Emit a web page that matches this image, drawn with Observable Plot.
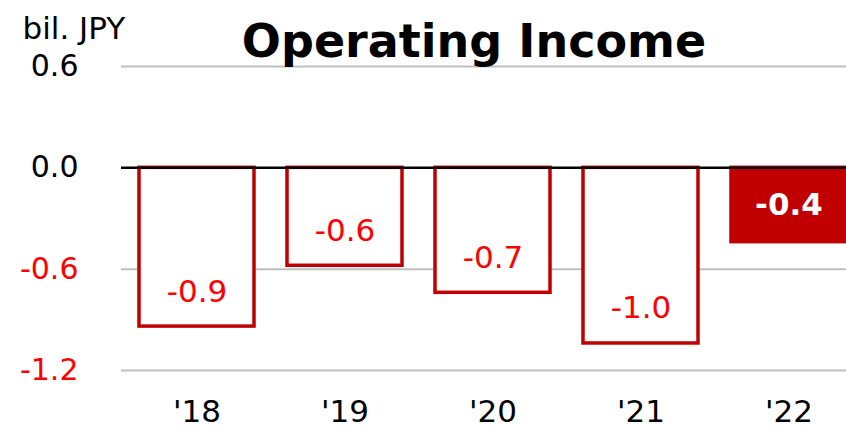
<!DOCTYPE html>
<html>
<head>
<meta charset="utf-8">
<script src="https://cdn.jsdelivr.net/npm/d3@7"></script>
<script src="https://cdn.jsdelivr.net/npm/@observablehq/plot@0.6"></script>
<style>
  html, body { margin: 0; padding: 0; background: white; }
  #wrap { width: 846px; height: 430px; overflow: hidden; position: relative; }
  #wrap svg { max-width: none !important; }
</style>
</head>
<body>
<div id="wrap"></div>
<script>
const years = ["'18", "'19", "'20", "'21", "'22"];
const values = [-0.94, -0.58, -0.74, -1.04, -0.44];
const labels = ["-0.9", "-0.6", "-0.7", "-1.0", "-0.4"];
const yTicks = [0.6, 0.0, -0.6, -1.2];
const title = "Operating Income";
const unit = "bil. JPY";

const data = years.map((y, i) => ({year: y, value: values[i], label: labels[i], last: i === years.length - 1}));
const red = "#C00000";

const chart = Plot.plot({
  width: 870,
  height: 430,
  marginLeft: 121,
  marginRight: 6,
  marginTop: 66,
  marginBottom: 60,
  style: {fontFamily: "DejaVu Sans", background: "white", overflow: "visible", maxWidth: "none"},
  x: {domain: years, paddingInner: 0.22, paddingOuter: 0.11, axis: null},
  y: {domain: [-1.2, 0.6], axis: null},
  marks: [
    Plot.ruleY(yTicks.filter(d => d !== 0), {y: d => d, stroke: "#BFBFBF", strokeWidth: 2}),
    Plot.barY(data, {x: "year", y: "value", fill: d => d.last ? red : "white", stroke: red, strokeWidth: 3.5}),
    Plot.ruleY([0], {stroke: "black", strokeWidth: 2.5}),
    Plot.text(data.filter(d => !d.last), {x: "year", y: "value", text: "label", dy: -35, fontSize: 31, fill: "#FF0000"}),
    Plot.text(data.filter(d => d.last), {x: "year", y: "value", text: "label", dy: -37, fontSize: 31, fill: "white", fontWeight: "bold"}),
    Plot.text(yTicks, {y: d => d, text: d => d.toFixed(1), frameAnchor: "left", textAnchor: "end", dx: -43, fontSize: 30,
      fill: d => d < 0 ? "#FF0000" : "black"}),
    Plot.text(years, {x: d => d, text: d => d, frameAnchor: "bottom", dy: 51, fontSize: 31, fill: "black"}),
    Plot.text([unit], {text: d => d, frameAnchor: "top-left", textAnchor: "start", dx: -99, dy: -50, fontSize: 31, fill: "black"}),
    Plot.text([title], {text: d => d, frameAnchor: "top", dx: -19, dy: -42, fontSize: 46, fontWeight: "bold", fill: "black"})
  ]
});
document.getElementById("wrap").appendChild(chart);
</script>
</body>
</html>
